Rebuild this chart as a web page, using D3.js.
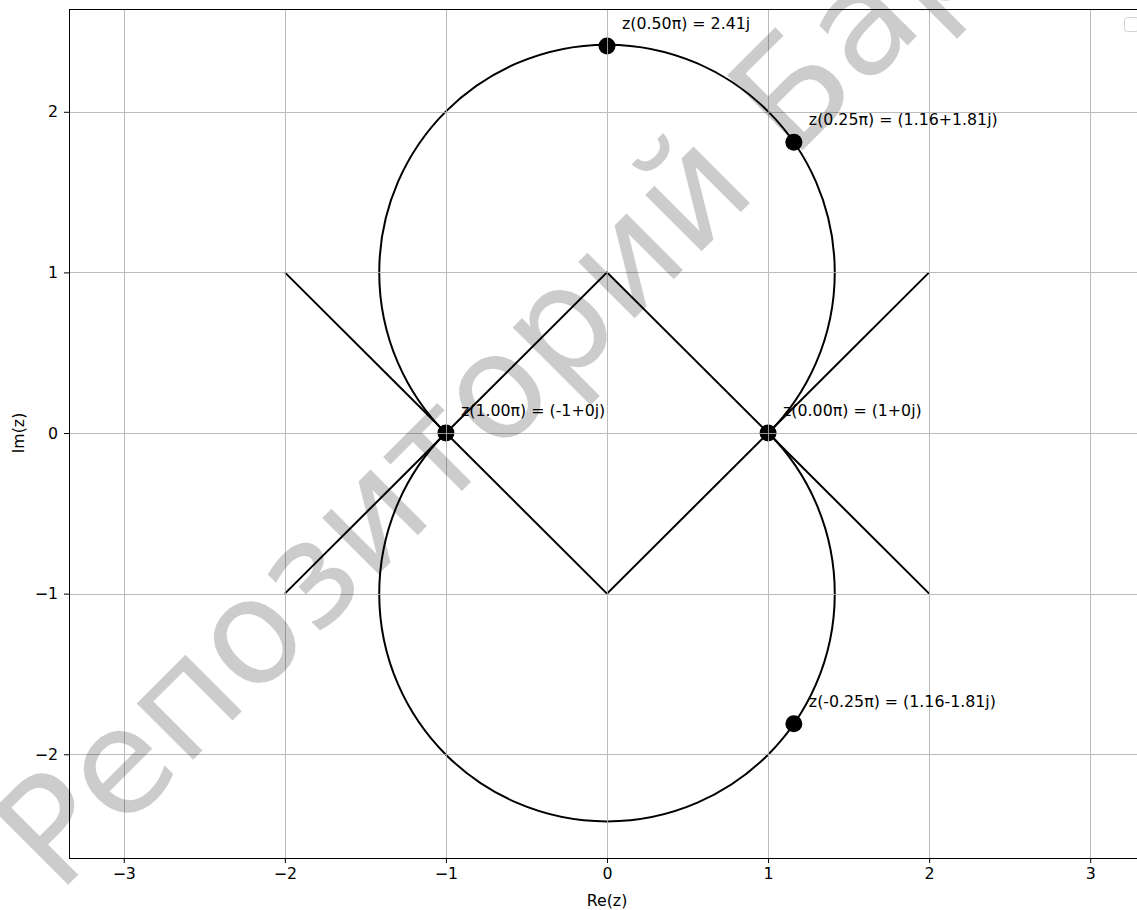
<!DOCTYPE html>
<html lang="en">
<head>
	<meta charset="UTF-8">
	<title>z-plane</title>
	<style>
		body { margin: 0; background: #fff; }
		text { font-family: "DejaVu Sans", sans-serif; }
	</style>
</head>
<body>
	<script src="https://cdn.jsdelivr.net/npm/d3@7/dist/d3.min.js"></script>
	<script>
		var width = 1137, height = 910;

		// data
		var xTicks = [-3, -2, -1, 0, 1, 2, 3];
		var yTicks = [-2, -1, 0, 1, 2];
		var zigX = [-2, -1, 0, 1, 2];
		var zigY1 = [1, 0, -1, 0, 1];
		var zigY2 = [-1, 0, 1, 0, -1];
		// two circle arcs (the figure eight), angles in degrees
		var arcCx = [0, 0];
		var arcCy = [1, -1];
		var arcR = [1.414, 1.414];
		var arcFrom = [-45, 45];
		var arcTo = [225, -225];
		var pointRe = [0, 1.16, 1, -1, 1.16];
		var pointIm = [2.41, 1.81, 0, 0, -1.81];
		var pointLabels = ["z(0.50π) = 2.41j", "z(0.25π) = (1.16+1.81j)", "z(0.00π) = (1+0j)",
			"z(1.00π) = (-1+0j)", "z(-0.25π) = (1.16-1.81j)"];

		var pLeft = 69, pTop = 9, pRight = 1145, pBottom = 858;
		var fs = "15.8px";

		var x = d3.scaleLinear().domain([-3.34, 3.34]).range([pLeft, pRight]);
		var y = d3.scaleLinear().domain([-2.646, 2.64]).range([pBottom, pTop]);

		var svg = d3.select("body").append("svg")
			.attr("width", width)
			.attr("height", height);

		svg.append("clipPath").attr("id", "clip")
			.append("rect")
			.attr("x", pLeft).attr("y", pTop)
			.attr("width", pRight - pLeft).attr("height", pBottom - pTop);

		var plot = svg.append("g").attr("clip-path", "url(#clip)");

		// zigzag lines
		var line = d3.line()
			.x(function(d) { return x(d[0]); })
			.y(function(d) { return y(d[1]); });
		[zigY1, zigY2].forEach(function(ys) {
			plot.append("path")
				.attr("d", line(zigX.map(function(v, i) { return [v, ys[i]]; })))
				.attr("fill", "none")
				.attr("stroke", "#000")
				.attr("stroke-width", 2);
		});

		// arcs
		var rad = Math.PI / 180;
		plot.selectAll("path.arc")
			.data(arcCx)
			.enter()
			.append("path")
			.attr("class", "arc")
			.attr("d", function(d, i) {
				var p = d3.path();
				var a0 = -arcFrom[i] * rad, a1 = -arcTo[i] * rad;
				var r = x(arcR[i]) - x(0);
				p.moveTo(x(d) + r * Math.cos(a0), y(arcCy[i]) + r * Math.sin(a0));
				p.arc(x(d), y(arcCy[i]), r, a0, a1, a1 < a0);
				return p.toString();
			})
			.attr("fill", "none")
			.attr("stroke", "#000")
			.attr("stroke-width", 2);

		// points
		plot.selectAll("circle.pt")
			.data(pointRe)
			.enter()
			.append("circle")
			.attr("class", "pt")
			.attr("cx", function(d) { return x(d); })
			.attr("cy", function(d, i) { return y(pointIm[i]); })
			.attr("r", 8.5)
			.attr("fill", "#000");

		// grid (drawn over the markers, like the original)
		var grid = plot.append("g").attr("stroke", "#b0b0b0").attr("stroke-width", 1).attr("opacity", 0.85);
		grid.selectAll("line.gx")
			.data(xTicks)
			.enter()
			.append("line")
			.attr("x1", function(d) { return Math.round(x(d)) + 0.5; })
			.attr("x2", function(d) { return Math.round(x(d)) + 0.5; })
			.attr("y1", pTop).attr("y2", pBottom);
		grid.selectAll("line.gy")
			.data(yTicks)
			.enter()
			.append("line")
			.attr("y1", function(d) { return Math.round(y(d)) + 0.5; })
			.attr("y2", function(d) { return Math.round(y(d)) + 0.5; })
			.attr("x1", pLeft).attr("x2", pRight);

		// annotations
		svg.selectAll("text.ann")
			.data(pointLabels)
			.enter()
			.append("text")
			.attr("class", "ann")
			.attr("x", function(d, i) { return x(pointRe[i]) + 15; })
			.attr("y", function(d, i) { return y(pointIm[i]) - 17; })
			.attr("font-size", fs)
			.attr("fill", "#000")
			.text(function(d) { return d; });

		// axes
		var fmt = function(d) { return d < 0 ? "\u2212" + Math.abs(d) : "" + d; };
		var xAxis = svg.append("g")
			.attr("transform", "translate(0," + pBottom + ")")
			.call(d3.axisBottom(x).tickValues(xTicks).tickFormat(fmt).tickSizeOuter(0).tickSize(5).tickPadding(5));
		var yAxis = svg.append("g")
			.attr("transform", "translate(" + pLeft + ",0)")
			.call(d3.axisLeft(y).tickValues(yTicks).tickFormat(fmt).tickSizeOuter(0).tickSize(5).tickPadding(6));
		[xAxis, yAxis].forEach(function(a) {
			a.select(".domain").remove();
			a.selectAll("text").attr("font-size", fs).attr("font-family", "DejaVu Sans").attr("fill", "#000");
			a.selectAll("line").attr("stroke", "#000");
		});

		// spines
		svg.append("rect")
			.attr("x", pLeft + 0.5).attr("y", pTop + 0.5)
			.attr("width", pRight - pLeft).attr("height", pBottom - pTop)
			.attr("fill", "none")
			.attr("stroke", "#000")
			.attr("stroke-width", 1);

		// labels
		svg.append("text")
			.attr("x", x(0)).attr("y", 906)
			.attr("text-anchor", "middle")
			.attr("font-size", fs)
			.text("Re(z)");
		svg.append("text")
			.attr("transform", "translate(24," + y(0) + ") rotate(-90)")
			.attr("text-anchor", "middle")
			.attr("font-size", fs)
			.text("Im(z)");

		// empty legend box
		svg.append("rect")
			.attr("x", 1124.5).attr("y", 17.5)
			.attr("width", 14).attr("height", 14)
			.attr("rx", 3)
			.attr("fill", "#fff")
			.attr("stroke", "#d0d0d0");

		// watermark
		svg.append("text")
			.attr("transform", "translate(58,895) rotate(-45)")
			.attr("font-family", "Liberation Sans, sans-serif")
			.attr("font-size", "146px")
			.attr("fill", "#000")
			.attr("fill-opacity", 0.2)
			.text("Репозиторий БарГУ");
	</script>
</body>
</html>
